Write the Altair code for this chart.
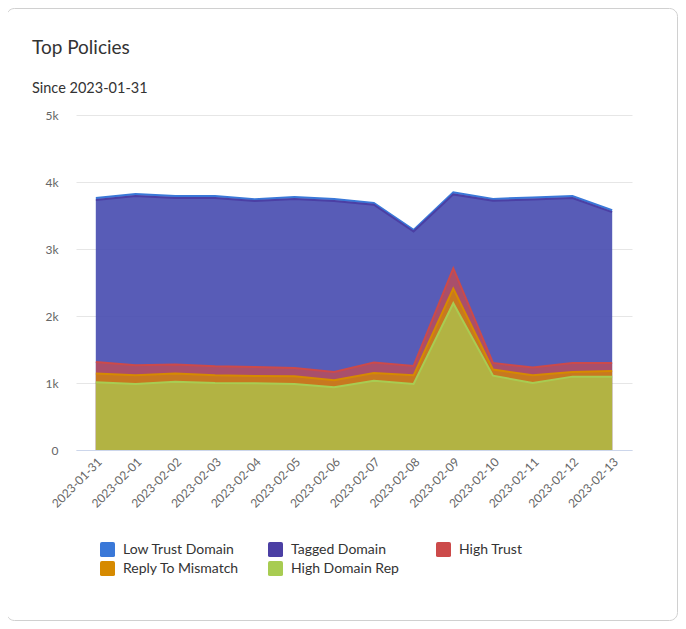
import altair as alt
import pandas as pd

dates = ["2023-01-31", "2023-02-01", "2023-02-02", "2023-02-03", "2023-02-04",
         "2023-02-05", "2023-02-06", "2023-02-07", "2023-02-08", "2023-02-09",
         "2023-02-10", "2023-02-11", "2023-02-12", "2023-02-13"]

# stacked from bottom to top
high_domain_rep = [1010, 985, 1020, 1000, 995, 985, 935, 1035, 985, 2190, 1110, 1000, 1095, 1095]
reply_to_mismatch = [130, 130, 120, 115, 110, 115, 105, 115, 130, 220, 90, 115, 70, 85]
high_trust = [175, 150, 135, 135, 135, 125, 125, 155, 140, 300, 100, 115, 135, 120]
tagged_domain = [2415, 2527, 2485, 2510, 2475, 2520, 2550, 2355, 2005, 1105, 2420, 2510, 2460, 2250]
low_trust_domain = [30, 28, 30, 30, 28, 30, 30, 28, 25, 30, 28, 30, 30, 28]

legend_order = ["Low Trust Domain", "Tagged Domain", "High Trust", "Reply To Mismatch", "High Domain Rep"]
colors = ["#3a78d8", "#4b3fa4", "#cc4a4a", "#d68a00", "#a8cc52"]

title_text = "Top Policies"
subtitle_text = "Since 2023-01-31"

stack_order = [
    ("High Domain Rep", high_domain_rep),
    ("Reply To Mismatch", reply_to_mismatch),
    ("High Trust", high_trust),
    ("Tagged Domain", tagged_domain),
    ("Low Trust Domain", low_trust_domain),
]

rows = []
running = [0] * len(dates)
for name, vals in stack_order:
    for i, d in enumerate(dates):
        running[i] += vals[i]
        rows.append({"date": d, "series": name, "value": vals[i], "cum": running[i]})
df = pd.DataFrame(rows)

color_scale = alt.Scale(domain=legend_order, range=colors)
rounded_sq = ("M -0.75 -1 L 0.75 -1 Q 1 -1 1 -0.75 L 1 0.75 Q 1 1 0.75 1 "
              "L -0.75 1 Q -1 1 -1 0.75 L -1 -0.75 Q -1 -1 -0.75 -1 Z")
legend = alt.Legend(
    title=None, orient="none", legendX=24, legendY=427, direction="horizontal",
    columns=3, gridAlign="all", columnPadding=29, rowPadding=4,
    symbolType=rounded_sq, symbolSize=225, symbolOpacity=1, symbolStrokeWidth=0,
    labelFont="Lato", labelFontSize=14, labelColor="#333333", labelOffset=8,
    labelLimit=200,
)

x_enc = alt.X("date:N", sort=dates, scale=alt.Scale(type="point", padding=0.5),
              axis=alt.Axis(title=None, labelAngle=-45, labelFont="Lato", labelFontSize=12,
                            labelColor="#666666", ticks=False, grid=False,
                            domainColor="#ccd6eb", domainWidth=1, labelPadding=6))
y_enc = alt.Y("cum:Q", stack=None, scale=alt.Scale(domain=[0, 5000], nice=False),
              axis=alt.Axis(title=None, values=[0, 1000, 2000, 3000, 4000, 5000],
                            labelExpr="datum.value == 0 ? '0' : (datum.value / 1000) + 'k'",
                            labelFont="Lato", labelFontSize=12, labelColor="#666666",
                            ticks=False, domain=False, gridColor="#e6e6e6", labelPadding=18))

one = pd.DataFrame({"k": [0]})
card = alt.Chart(one).mark_rect(
    fill="white", fillOpacity=0, stroke="#d0d0d0", strokeWidth=1, cornerRadius=8
).encode(x=alt.value(-69.5), x2=alt.value(601.5), y=alt.value(-106.5), y2=alt.value(505.5))

title_mark = alt.Chart(one).mark_text(
    text=title_text, font="Lato", fontSize=19, color="#333333", align="left", baseline="alphabetic"
).encode(x=alt.value(-44), y=alt.value(-61))
subtitle_mark = alt.Chart(one).mark_text(
    text=subtitle_text, font="Lato", fontSize=14.5, color="#333333", align="left", baseline="alphabetic"
).encode(x=alt.value(-44), y=alt.value(-22))

layers = [card, title_mark, subtitle_mark]
for name in ["Low Trust Domain", "Tagged Domain", "High Trust", "Reply To Mismatch", "High Domain Rep"]:
    layers.append(
        alt.Chart(df).transform_filter(alt.datum.series == name)
        .mark_area(fillOpacity=0.7, line={"strokeWidth": 2})
        .encode(x=x_enc, y=y_enc,
                color=alt.Color("series:N", scale=color_scale, legend=legend))
    )

chart = alt.layer(*layers).properties(
    width=556, height=335,
    autosize=alt.AutoSizeParams(type="none"),
    padding={"left": 68, "top": 107, "right": 46, "bottom": 171},
).configure(background="white", view=alt.ViewConfig(stroke=None))

chart.save("out.html", embed_options={"renderer": "svg", "actions": False})
